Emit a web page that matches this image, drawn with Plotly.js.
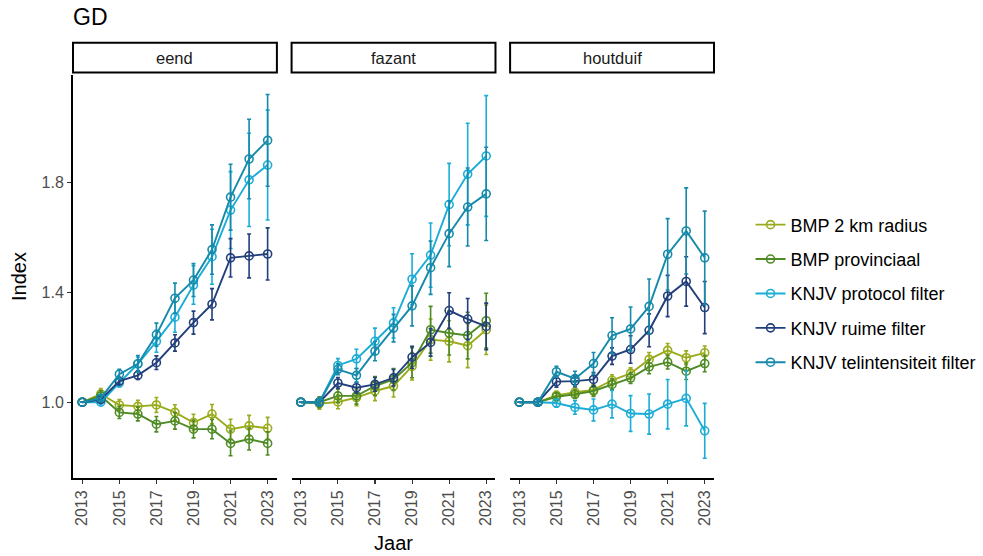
<!DOCTYPE html>
<html>
<head>
<meta charset="utf-8">
<script src="https://cdn.plot.ly/plotly-3.0.1.min.js"></script>
<style>
  html, body { margin: 0; padding: 0; background: #fff; }
  #chart { width: 983px; height: 556px; }
</style>
</head>
<body>
<div id="chart"></div>
<script>
// Jaren en panelen
const years = [2013, 2014, 2015, 2016, 2017, 2018, 2019, 2020, 2021, 2022, 2023];
const species = ["eend", "fazant", "houtduif"];
const seriesNames = ["BMP 2 km radius", "BMP provinciaal", "KNJV protocol filter", "KNJV ruime filter", "KNJV telintensiteit filter"];
const seriesColors = ["#9aab1b", "#4f8b25", "#1badd6", "#213f7b", "#168aaa"];
const xTickVals = [2013, 2015, 2017, 2019, 2021, 2023];
const yTickVals = [1.0, 1.4, 1.8];
const yTickText = ["1.0", "1.4", "1.8"];

// eend: index en foutmarge per reeks
const eendBmp2km = [1.00, 1.03, 0.99, 0.985, 0.99, 0.963, 0.926, 0.957, 0.902, 0.914, 0.905];
const eendBmp2kmErr = [0, 0.02, 0.02, 0.022, 0.027, 0.028, 0.03, 0.035, 0.036, 0.038, 0.04];
const eendBmpProv = [1.00, 1.023, 0.963, 0.957, 0.92, 0.932, 0.902, 0.902, 0.85, 0.866, 0.85];
const eendBmpProvErr = [0, 0.02, 0.022, 0.025, 0.028, 0.03, 0.032, 0.035, 0.045, 0.04, 0.042];
const eendProtocol = [1.00, 1.00, 1.071, 1.14, 1.222, 1.31, 1.427, 1.53, 1.70, 1.81, 1.864];
const eendProtocolErr = [0, 0.01, 0.015, 0.025, 0.04, 0.055, 0.07, 0.1, 0.14, 0.17, 0.2];
const eendRuime = [1.00, 1.01, 1.077, 1.098, 1.144, 1.216, 1.29, 1.357, 1.526, 1.533, 1.54];
const eendRuimeErr = [0, 0.01, 0.012, 0.015, 0.025, 0.03, 0.042, 0.057, 0.07, 0.08, 0.095];
const eendTelint = [1.00, 1.015, 1.102, 1.14, 1.246, 1.379, 1.445, 1.556, 1.747, 1.886, 1.954];
const eendTelintErr = [0, 0.01, 0.018, 0.03, 0.042, 0.055, 0.06, 0.09, 0.12, 0.145, 0.167];

// fazant
const fazantBmp2km = [1.00, 0.995, 1.001, 1.017, 1.041, 1.059, 1.131, 1.228, 1.222, 1.206, 1.264];
const fazantBmp2kmErr = [0, 0.02, 0.025, 0.03, 0.035, 0.04, 0.05, 0.075, 0.075, 0.08, 0.09];
const fazantBmpProv = [1.00, 1.00, 1.023, 1.023, 1.059, 1.083, 1.144, 1.264, 1.252, 1.243, 1.297];
const fazantBmpProvErr = [0, 0.02, 0.025, 0.03, 0.035, 0.04, 0.055, 0.085, 0.08, 0.085, 0.1];
const fazantProtocol = [1.00, 1.00, 1.134, 1.158, 1.222, 1.289, 1.448, 1.536, 1.72, 1.831, 1.897];
const fazantProtocolErr = [0, 0.01, 0.025, 0.035, 0.048, 0.055, 0.093, 0.117, 0.15, 0.185, 0.22];
const fazantRuime = [1.00, 1.00, 1.07, 1.053, 1.065, 1.089, 1.164, 1.218, 1.334, 1.303, 1.276];
const fazantRuimeErr = [0, 0.01, 0.02, 0.02, 0.025, 0.03, 0.04, 0.05, 0.065, 0.075, 0.085];
const fazantTelint = [1.00, 1.00, 1.12, 1.098, 1.186, 1.27, 1.351, 1.49, 1.614, 1.711, 1.759];
const fazantTelintErr = [0, 0.01, 0.02, 0.025, 0.035, 0.05, 0.073, 0.097, 0.12, 0.142, 0.17];

// houtduif
const houtduifBmp2km = [1.00, 1.00, 1.025, 1.037, 1.045, 1.08, 1.105, 1.156, 1.189, 1.162, 1.18];
const houtduifBmp2kmErr = [0, 0.01, 0.015, 0.015, 0.02, 0.02, 0.02, 0.025, 0.025, 0.025, 0.025];
const houtduifBmpProv = [1.00, 1.00, 1.02, 1.029, 1.041, 1.065, 1.088, 1.129, 1.146, 1.113, 1.141];
const houtduifBmpProvErr = [0, 0.01, 0.015, 0.015, 0.02, 0.02, 0.02, 0.025, 0.025, 0.03, 0.03];
const houtduifProtocol = [1.00, 1.00, 0.997, 0.981, 0.972, 0.993, 0.959, 0.957, 0.993, 1.014, 0.896];
const houtduifProtocolErr = [0, 0.01, 0.015, 0.025, 0.04, 0.05, 0.065, 0.073, 0.09, 0.1, 0.1];
const houtduifRuime = [1.00, 1.00, 1.075, 1.077, 1.083, 1.168, 1.192, 1.262, 1.387, 1.44, 1.345];
const houtduifRuimeErr = [0, 0.01, 0.02, 0.02, 0.025, 0.03, 0.05, 0.06, 0.075, 0.09, 0.095];
const houtduifTelint = [1.00, 1.00, 1.111, 1.086, 1.141, 1.243, 1.267, 1.349, 1.539, 1.624, 1.526];
const houtduifTelintErr = [0, 0.01, 0.02, 0.027, 0.04, 0.065, 0.08, 0.1, 0.13, 0.157, 0.17];

const panelValues = [
  [eendBmp2km, eendBmpProv, eendProtocol, eendRuime, eendTelint],
  [fazantBmp2km, fazantBmpProv, fazantProtocol, fazantRuime, fazantTelint],
  [houtduifBmp2km, houtduifBmpProv, houtduifProtocol, houtduifRuime, houtduifTelint]
];
const panelErrors = [
  [eendBmp2kmErr, eendBmpProvErr, eendProtocolErr, eendRuimeErr, eendTelintErr],
  [fazantBmp2kmErr, fazantBmpProvErr, fazantProtocolErr, fazantRuimeErr, fazantTelintErr],
  [houtduifBmp2kmErr, houtduifBmpProvErr, houtduifProtocolErr, houtduifRuimeErr, houtduifTelintErr]
];

const FONT = "Liberation Sans, Arial, Helvetica, sans-serif";
const xAxisIds = ["x", "x2", "x3"];

const traces = [];
panelValues.forEach((panel, p) => {
  panel.forEach((vals, s) => {
    traces.push({
      type: "scatter",
      mode: "lines+markers",
      x: years,
      y: vals,
      xaxis: xAxisIds[p],
      yaxis: "y",
      name: seriesNames[s],
      legendgroup: seriesNames[s],
      showlegend: p === 0,
      line: { color: seriesColors[s], width: 1.9 },
      marker: { symbol: "circle-open", size: 8, color: seriesColors[s], line: { width: 1.6, color: seriesColors[s] } },
      error_y: { type: "data", array: panelErrors[p][s], visible: true, color: seriesColors[s], thickness: 1.6, width: 2 },
      cliponaxis: false,
      hoverinfo: "x+y+name"
    });
  });
});

function xAxis(domain, withTitle) {
  return {
    domain: domain,
    anchor: "y",
    range: [2012.5, 2023.5],
    tickmode: "array",
    tickvals: xTickVals,
    ticktext: xTickVals.map(String),
    tickangle: -90,
    ticks: "outside",
    ticklen: 4,
    tickwidth: 1.1,
    tickcolor: "#333333",
    tickfont: { family: FONT, size: 16, color: "#4d4d4d" },
    showline: true,
    linecolor: "#000000",
    linewidth: 2,
    showgrid: false,
    zeroline: false,
    title: withTitle ? { text: "Jaar", font: { family: FONT, size: 20, color: "#000000" }, standoff: 11 } : { text: "" }
  };
}

const domains = [[0, 0.3181], [0.341, 0.6591], [0.6819, 1]];

const shapes = [];
const annotations = [];
domains.forEach((d, i) => {
  shapes.push({
    type: "rect",
    xref: xAxisIds[i] + " domain",
    yref: "paper",
    x0: 0, x1: 1,
    y0: 1.006, y1: 1.08,
    line: { color: "#000000", width: 2 },
    fillcolor: "#ffffff"
  });
  annotations.push({
    xref: xAxisIds[i] + " domain",
    yref: "paper",
    x: 0.5, y: 1.043,
    xanchor: "center", yanchor: "middle",
    text: species[i],
    showarrow: false,
    font: { family: FONT, size: 16.5, color: "#1a1a1a" }
  });
});

const layout = {
  width: 983,
  height: 556,
  paper_bgcolor: "#ffffff",
  plot_bgcolor: "#ffffff",
  font: { family: FONT, color: "#000000" },
  margin: { l: 73, r: 269, t: 75, b: 78, autoexpand: false },
  title: {
    text: "GD",
    x: 0, xref: "paper", xanchor: "left",
    y: 1 - 17 / 556, yref: "container", yanchor: "middle",
    font: { family: FONT, size: 23, color: "#000000" }
  },
  xaxis: xAxis(domains[0], false),
  xaxis2: xAxis(domains[1], true),
  xaxis3: xAxis(domains[2], false),
  yaxis: {
    domain: [0, 1],
    anchor: "x",
    range: [0.724, 2.192],
    tickmode: "array",
    tickvals: yTickVals,
    ticktext: yTickText,
    ticks: "outside",
    ticklen: 4,
    tickwidth: 1.1,
    tickcolor: "#333333",
    tickfont: { family: FONT, size: 16, color: "#4d4d4d" },
    showline: true,
    linecolor: "#000000",
    linewidth: 2,
    showgrid: false,
    zeroline: false,
    title: { text: "Index", font: { family: FONT, size: 20, color: "#000000" }, standoff: 10 }
  },
  legend: {
    x: 1.057, xanchor: "left",
    y: 0.458, yanchor: "middle",
    xref: "paper", yref: "paper",
    font: { family: FONT, size: 18, color: "#000000" },
    tracegroupgap: 8,
    bgcolor: "rgba(0,0,0,0)",
    traceorder: "grouped"
  },
  shapes: shapes,
  annotations: annotations,
  showlegend: true
};

Plotly.newPlot("chart", traces, layout, { staticPlot: true, displayModeBar: false });
</script>
</body>
</html>
